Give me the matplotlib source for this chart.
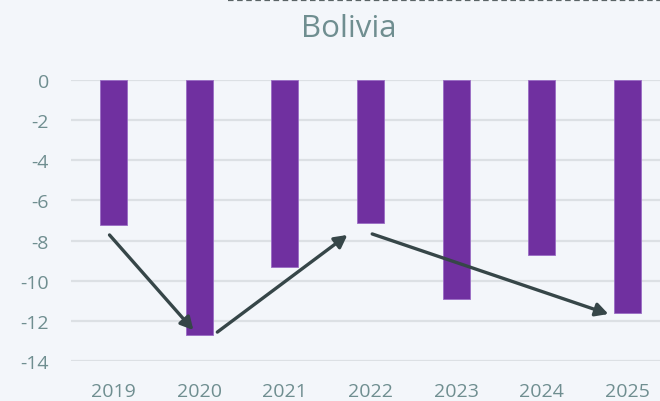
import matplotlib
matplotlib.use("Agg")
import matplotlib.pyplot as plt
from matplotlib.lines import Line2D

years = ["2019", "2020", "2021", "2022", "2023", "2024", "2025"]
values = [-7.2, -12.7, -9.3, -7.1, -10.9, -8.7, -11.6]
y_ticks = [0, -2, -4, -6, -8, -10, -12, -14]
title = "Bolivia"
# trend arrows: (start category index, start value, end category index, end value)
arrows = [
    (-0.05, -7.72, 0.93, -12.46),
    (1.21, -12.56, 2.73, -7.72),
    (3.02, -7.67, 5.78, -11.66),
]

bg = "#F3F6FA"
text_color = "#6F8E90"
bar_color = "#7030A0"
arrow_color = "#364648"
grid_color = "#DCE0E4"

plt.rcParams['font.family'] = ['Open Sans', 'DejaVu Sans']

fig = plt.figure(figsize=(6.6, 4.02), dpi=100, facecolor=bg)
ax = fig.add_axes([71/660, 40/402, 599/660, 281/402])
ax.set_facecolor(bg)

x = list(range(len(years)))
ax.bar(x, values, width=0.315, color=bar_color, edgecolor="#9A6CC4", linewidth=0.6, zorder=3)

ax.set_xlim(-0.5, len(years) - 0.5)
ax.set_ylim(-14, 0)
ax.set_yticks(y_ticks)
ax.set_yticklabels([str(t) for t in y_ticks])
ax.set_xticks(x)
ax.set_xticklabels(years)
ax.tick_params(axis='both', length=0, labelsize=14, labelcolor=text_color)
ax.tick_params(axis='y', pad=16)
ax.tick_params(axis='x', pad=15)
ax.grid(axis='y', color=grid_color, linewidth=1.6, zorder=0)
ax.set_axisbelow(True)
for s in ax.spines.values():
    s.set_visible(False)

for (x0, y0, x1, y1) in arrows:
    ax.annotate("", xy=(x1, y1), xytext=(x0, y0),
                arrowprops=dict(arrowstyle="-|>,head_length=0.75,head_width=0.4",
                                color=arrow_color, lw=2.4, shrinkA=0, shrinkB=0),
                zorder=5)

fig.text(349/660, 1 - 37/402, title, ha='center', va='baseline', fontsize=22.5, color=text_color)

# cut-off decoration at top edge
fig.add_artist(Line2D([228/660, 1.0], [401/402, 401/402], transform=fig.transFigure,
                      color="#5A6466", lw=1.6, dashes=(2.5, 1.6)))

fig.savefig("out.png", dpi=100, facecolor=bg)
